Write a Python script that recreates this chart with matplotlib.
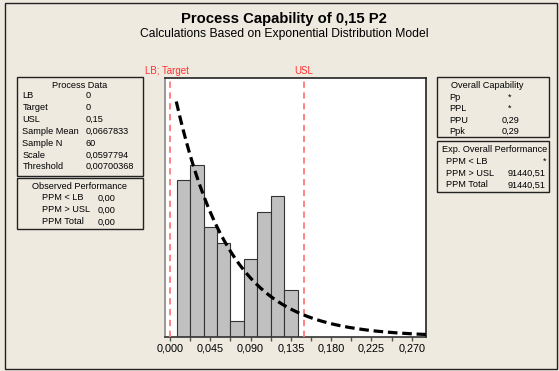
import matplotlib.pyplot as plt
import numpy as np
from matplotlib.patches import Rectangle
from matplotlib.ticker import FuncFormatter, MultipleLocator

# histogram of the sample (counts per bin)
bin_edges = np.array([0.0075, 0.0225, 0.0375, 0.0525, 0.0675, 0.0825, 0.0975, 0.1125, 0.1275, 0.1425])
counts = np.array([10, 11, 7, 6, 1, 5, 8, 9, 3])
n_obs = 60

# specification limits / fitted exponential model
lb = 0.0
usl = 0.15
scale = 0.0597794
threshold = 0.00700368

process_labels = ["LB", "Target", "USL", "Sample Mean", "Sample N", "Scale", "Threshold"]
process_values = ["0", "0", "0,15", "0,0667833", "60", "0,0597794", "0,00700368"]
observed_labels = ["PPM < LB", "PPM > USL", "PPM Total"]
observed_values = ["0,00", "0,00", "0,00"]
capability_labels = ["Pp", "PPL", "PPU", "Ppk"]
capability_values = ["*", "*", "0,29", "0,29"]
expected_labels = ["PPM < LB", "PPM > USL", "PPM Total"]
expected_values = ["*", "91440,51", "91440,51"]

W, H = 559, 371
bg = "#EEEAE0"
font = "Liberation Sans"

fig = plt.figure(figsize=(W / 100, H / 100), dpi=100, facecolor=bg)


def fx(x):
    return x / W


def fy(y):
    return 1 - y / H


def txt(x, y, s, size=6.6, ha="left", **kw):
    fig.text(fx(x), fy(y), s, ha=ha, va="center", fontsize=size, family=font, **kw)


def box(x0, y0, x1, y1):
    fig.add_artist(Rectangle((fx(x0), fy(y1)), fx(x1) - fx(x0), fy(y0) - fy(y1),
                             transform=fig.transFigure, fill=False, ec="#222222", lw=1.0))


# outer frame
box(5, 3, 557, 369)

# main plot
ax = fig.add_axes([fx(165), fy(336.7), fx(426) - fx(165), fy(78) - fy(336.7)])
width = np.diff(bin_edges)
density = counts / (n_obs * width)
ax.bar(bin_edges[:-1], density, width=width, align="edge",
       color="#C0C0C0", edgecolor="#333333", linewidth=0.8, zorder=2)

xs = np.linspace(threshold, 0.29, 300)
pdf = np.exp(-(xs - threshold) / scale) / scale
ax.plot(xs, pdf, color="black", lw=2.3, dashes=(3.0, 1.5), zorder=4)

for v in (lb, usl):
    ax.axvline(v, color="#FF7A7A", lw=1.3, dashes=(3.5, 2.5), zorder=3)

ax.set_xlim(-0.0056, 0.286)
ax.set_ylim(0, 18.4)
ax.xaxis.set_major_locator(MultipleLocator(0.045))
ax.xaxis.set_minor_locator(MultipleLocator(0.0225))
ax.xaxis.set_major_formatter(FuncFormatter(lambda v, p: f"{v:.3f}".replace(".", ",")))
ax.tick_params(axis="x", which="both", length=3, width=1, color="#555555",
               labelsize=7.8, pad=2)
ax.set_yticks([])
for lab in ax.get_xticklabels():
    lab.set_family(font)
for side, col in [("left", "#888888"), ("bottom", "#333333"), ("right", "#222222"), ("top", "#222222")]:
    ax.spines[side].set_color(col)
    ax.spines[side].set_linewidth(1.2)

# limit labels
txt(145, 71, "LB; Target", size=7, color="#FF3030")
txt(294, 71, "USL", size=7, color="#FF3030")

# titles
txt(284, 19, "Process Capability of 0,15 P2", size=10.7, ha="center", weight="bold")
txt(284, 33.5, "Calculations Based on Exponential Distribution Model", size=8.7, ha="center")

# process data box
box(16.7, 77, 142.7, 176)
txt(79.5, 85, "Process Data", ha="center")
for i, (l, v) in enumerate(zip(process_labels, process_values)):
    y = 96 + i * 11.8
    txt(22.5, y, l)
    txt(86, y, v)

box(16.7, 178.3, 142.7, 229)
txt(79.5, 186.5, "Observed Performance", ha="center")
for i, (l, v) in enumerate(zip(observed_labels, observed_values)):
    y = 198 + i * 12
    txt(42.5, y, l)
    txt(98, y, v)

# capability boxes
box(437.3, 77, 549.3, 137)
txt(487, 85.5, "Overall Capability", ha="center")
for i, (l, v) in enumerate(zip(capability_labels, capability_values)):
    y = 97 + i * 11.6
    txt(449, y, l)
    txt(510, y, v, ha="center")

box(437.3, 141, 549.3, 192)
txt(442.5, 149.5, "Exp. Overall Performance")
for i, (l, v) in enumerate(zip(expected_labels, expected_values)):
    y = 161 + i * 12
    txt(446, y, l)
    txt(546, y, v, ha="right")

fig.savefig("out.png", dpi=100, facecolor=bg)
